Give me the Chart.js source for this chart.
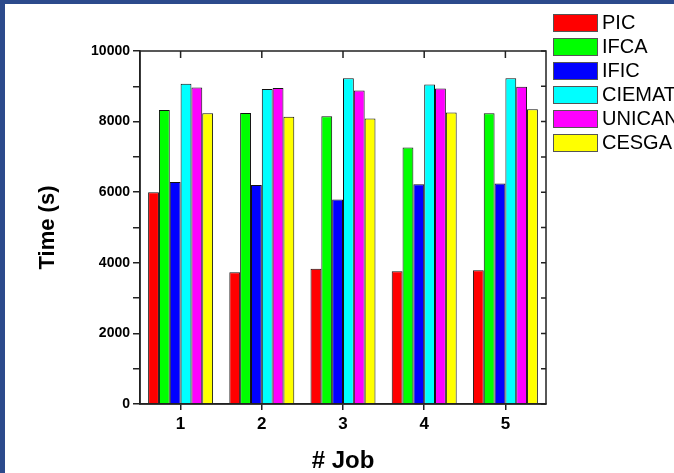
<!DOCTYPE html>
<html>
<head>
<meta charset="utf-8">
<script src="https://cdn.jsdelivr.net/npm/chart.js@4"></script>
<style>
    html, body { margin: 0; padding: 0; }
    body { background: #2c4a8c; width: 674px; height: 473px; overflow: hidden; }
    #wrap { position: absolute; left: 5px; top: 4px; width: 669px; height: 469px; background: #fff; }
</style>
</head>
<body>
<div id="wrap"><canvas id="jobChart" width="669" height="469"></canvas></div>
<script>
const jobs = ['1', '2', '3', '4', '5'];
const sites = ['PIC', 'IFCA', 'IFIC', 'CIEMAT', 'UNICAN', 'CESGA'];
const siteColors = ['#ff0000', '#00ff00', '#0000ff', '#00ffff', '#ff00ff', '#ffff00'];

const picTimes = [6000, 3730, 3830, 3760, 3790];
const ifcaTimes = [8330, 8245, 8150, 7265, 8235];
const ificTimes = [6290, 6205, 5790, 6225, 6250];
const ciematTimes = [9075, 8925, 9225, 9050, 9225];
const unicanTimes = [8965, 8950, 8880, 8935, 8990];
const cesgaTimes = [8235, 8140, 8085, 8255, 8350];

const yTicks = [0, 2000, 4000, 6000, 8000, 10000];

const seriesValues = [picTimes, ifcaTimes, ificTimes, ciematTimes, unicanTimes, cesgaTimes];
const axisColor = '#222';
const fontFamily = 'Arial, "Liberation Sans", sans-serif';

// box around the plot + inward ticks on top and right, like the origin plot
const framePlugin = {
    id: 'frame',
    afterDraw(chart) {
        const { ctx, chartArea: a, scales: { x, y } } = chart;
        ctx.save();
        ctx.strokeStyle = axisColor;
        ctx.lineWidth = 1.5;
        ctx.strokeRect(a.left, a.top, a.right - a.left, a.bottom - a.top);
        ctx.beginPath();
        x.ticks.forEach((t, i) => {
            const px = x.getPixelForTick(i);
            ctx.moveTo(px, a.top);
            ctx.lineTo(px, a.top + 7);
        });
        y.ticks.forEach((t, i) => {
            const py = y.getPixelForTick(i);
            ctx.moveTo(a.right, py);
            ctx.lineTo(a.right - 5, py);
        });
        ctx.stroke();
        ctx.restore();
    }
};

const sideLegend = {
    id: 'sideLegend',
    afterDraw(chart) {
        const { ctx } = chart;
        ctx.save();
        ctx.font = '20px ' + fontFamily;
        ctx.textBaseline = 'middle';
        chart.data.datasets.forEach((ds, i) => {
            const top = 10 + i * 24;
            ctx.fillStyle = ds.backgroundColor;
            ctx.fillRect(548, top, 44, 17);
            ctx.strokeStyle = '#555';
            ctx.lineWidth = 1;
            ctx.strokeRect(548.5, top + 0.5, 44, 17);
            ctx.fillStyle = '#000';
            ctx.fillText(ds.label, 597, top + 9.5);
        });
        ctx.restore();
    }
};

document.addEventListener('DOMContentLoaded', () => {
    const ctx = document.getElementById('jobChart').getContext('2d');

    new Chart(ctx, {
        type: 'bar',
        data: {
            labels: jobs,
            datasets: sites.map((name, i) => ({
                label: name,
                data: seriesValues[i],
                backgroundColor: siteColors[i],
                borderColor: '#111',
                borderWidth: 1,
                categoryPercentage: 0.8,
                barPercentage: 1.0
            }))
        },
        options: {
            responsive: false,
            animation: false,
            layout: { padding: { top: 47, right: 128, left: 0, bottom: 0 } },
            plugins: {
                legend: { display: false },
                tooltip: { enabled: false }
            },
            scales: {
                x: {
                    grid: {
                        offset: false,
                        drawOnChartArea: false,
                        tickLength: 6,
                        color: axisColor,
                        lineWidth: 1.5
                    },
                    border: { display: true, color: axisColor, width: 1.5 },
                    ticks: {
                        color: '#000',
                        padding: 4,
                        font: { family: fontFamily, size: 17, weight: 'bold' }
                    },
                    title: {
                        display: true,
                        text: '# Job',
                        color: '#000',
                        padding: { top: 0, bottom: 0 },
                        font: { family: fontFamily, size: 24, weight: 'bold', lineHeight: 1 }
                    },
                    afterFit: s => { s.height = 69; }
                },
                y: {
                    min: 0,
                    max: 10000,
                    ticks: {
                        stepSize: 1000,
                        color: '#000',
                        padding: 3,
                        font: { family: fontFamily, size: 14, weight: 'bold' },
                        callback: v => yTicks.includes(v) ? String(v) : ''
                    },
                    grid: {
                        drawOnChartArea: false,
                        tickLength: 7,
                        color: axisColor,
                        lineWidth: 1.5
                    },
                    border: { display: true, color: axisColor, width: 1.5 },
                    title: {
                        display: true,
                        text: 'Time (s)',
                        color: '#000',
                        padding: { top: 32, bottom: 0 },
                        font: { family: fontFamily, size: 22, weight: 'bold', lineHeight: 1 }
                    },
                    afterFit: s => { s.width = 135; }
                }
            }
        },
        plugins: [framePlugin, sideLegend]
    });
});
</script>
</body>
</html>
